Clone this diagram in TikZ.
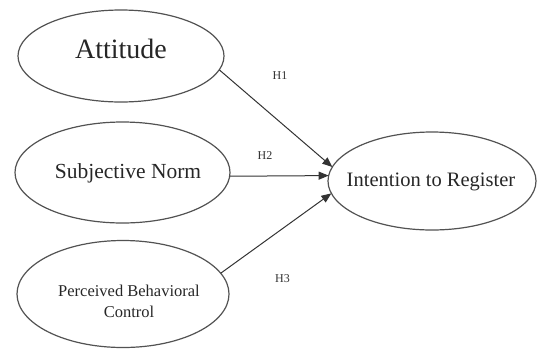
\documentclass[tikz,border=0pt]{standalone}
\usepackage{fontspec}
\setmainfont{Liberation Serif}
\usetikzlibrary{shapes.geometric,arrows.meta}
\definecolor{ink}{HTML}{333333}
\tikzset{
  ell/.style={ellipse, draw=ink!85, line width=1.2pt, inner sep=0pt, outer sep=0pt},
  conn/.style={draw=ink!85, line width=1pt, -{Triangle[length=10pt,width=8pt]}, color=ink},
  lab/.style={inner sep=0pt, text=ink, font=\fontsize{12}{14}\selectfont},
  txt/.style={inner sep=0pt, text=black!85, align=center}
}
\begin{document}
\begin{tikzpicture}[x=1pt,y=-1pt]
\useasboundingbox (0,0) rectangle (540,349);
% ellipses
\node[ell, minimum width=206pt, minimum height=92pt] (att) at (121,56) {};
\node[ell, minimum width=215pt, minimum height=101pt] (sn) at (122.5,172.5) {};
\node[ell, minimum width=212pt, minimum height=107pt] (pbc) at (123,294) {};
\node[ell, minimum width=208pt, minimum height=98pt] (int) at (432,181) {};
% texts
\node[txt, font=\fontsize{28}{32}\selectfont] (attT) at (121,49) {Attitude};
\node[txt, font=\fontsize{21.5}{24}\selectfont] (snT) at (128,173) {Subjective Norm};
\node[txt, font=\fontsize{16.5}{22}\selectfont] (pbcT) at (129,301) {Perceived Behavioral\\[-1pt]Control};
\node[txt, font=\fontsize{20.5}{24}\selectfont] (intT) at (431,182) {Intention to Register};
% connectors
\draw[conn] (att.-8) -- (int.172.6);
\draw[conn] (sn.-2.7) -- (int.177.8);
\draw[conn] (pbc.12) -- (int.187);
% labels
\node[lab] (h1) at (280,75.5) {H1};
\node[lab] (h2) at (265,156) {H2};
\node[lab] (h3) at (282.5,279) {H3};
\end{tikzpicture}
\end{document}
